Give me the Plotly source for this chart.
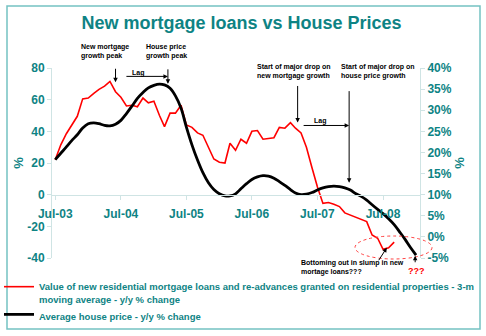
import pandas as pd
import plotly.graph_objects as go

# ---- data -------------------------------------------------------------
months_mortgage = pd.date_range("2003-07-01", periods=63, freq="MS")
mortgage_yoy = [
    22, 31.5, 38.5, 44, 49.5, 60.5, 61, 64, 66.5, 68.5,
    71.5, 65, 61.5, 56, 56.5, 55.5, 61, 58, 59, 50,
    43, 51.5, 51.5, 56.5, 44, 42.5, 39, 37.5, 30, 22.5,
    20.5, 20, 32.5, 28, 35, 32.5, 40, 40.5, 35, 35.5,
    36, 42.5, 42, 45.5, 42, 39, 30, 17, 5, -5.5,
    -5, -6, -7.5, -11.5, -13, -14.5, -16, -17, -25.5, -27.5,
    -34.5, -33.5, -30,
]

months_house = pd.date_range("2003-07-01", periods=67, freq="MS")
house_price_yoy = [
    18.3, 19.8, 21.3, 22.8, 24.2, 25.8, 26.8, 27.0, 26.8, 26.4,
    26.3, 26.7, 27.6, 29.2, 31.0, 32.8, 34.2, 35.3, 35.9, 36.2,
    36.0, 35.2, 33.4, 30.5, 26.0, 21.8, 18.2, 15.2, 12.8, 11.2,
    10.2, 9.7, 9.7, 10.2, 11.4, 12.6, 13.6, 14.2, 14.5, 14.4,
    13.9, 13.1, 12.2, 11.2, 10.4, 10.0, 10.1, 10.5, 11.1, 11.6,
    11.9, 12.0, 11.9, 11.6, 11.1, 10.2, 9.6, 8.7, 7.6, 6.5,
    5.5, 4.3, 2.9, 1.2, -0.6, -2.5, -4.3,
]

left_ticks = [-40, -20, 0, 20, 40, 60, 80]
left_labels = [str(v) for v in left_ticks]
right_ticks = [-5, 0, 5, 10, 15, 20, 25, 30, 35, 40]
right_labels = [f"{v}%" for v in right_ticks]

mortgage_name = ("Value of new residential mortgage loans and re-advances granted on "
                 "residential properties - 3-m<br>moving average - y/y % change")
house_name = "Average house price - y/y % change"

# ---- layout helpers ---------------------------------------------------
W, H = 486, 336
M = dict(l=52, r=66, t=68, b=78, autoexpand=False)
PW = W - M["l"] - M["r"]
PH = H - M["t"] - M["b"]


def px(x):
    return (x - M["l"]) / PW


def py(y):
    return (H - M["b"] - y) / PH


TEAL = "#0e8384"
AXIS = "#cfe4e4"
FONT = "Liberation Sans, Arial, sans-serif"

fig = go.Figure()
fig.add_trace(go.Scatter(
    x=months_mortgage, y=mortgage_yoy, name=mortgage_name, mode="lines",
    line=dict(color="#ff0000", width=1.6), yaxis="y",
))
fig.add_trace(go.Scatter(
    x=months_house, y=house_price_yoy, name=house_name, mode="lines",
    line=dict(color="#000000", width=2.8, shape="spline", smoothing=1.0), yaxis="y2",
))

tickfont = dict(family=FONT, size=12, color=TEAL, weight="bold")

fig.update_layout(
    width=W, height=H, margin=M,
    paper_bgcolor="white", plot_bgcolor="white",
    font=dict(family=FONT),
    title=dict(text="New mortgage loans vs House Prices", x=0.497, xref="container",
               y=1 - 23 / H, yanchor="middle",
               font=dict(family=FONT, size=18, color=TEAL, weight="bold")),
    xaxis=dict(type="date", range=["2003-06-13", "2009-01-23"],
               tick0="2003-07-01", dtick="M12", tickformat="%b-%y",
               anchor="free", position=1 / 3, showgrid=False, zeroline=False,
               showline=True, linecolor=AXIS, linewidth=1,
               ticks="outside", ticklen=4, tickcolor=AXIS,
               tickfont=tickfont, ticklabelstandoff=4, automargin=False),
    yaxis=dict(range=[-40, 80], tickvals=left_ticks, ticktext=left_labels,
               showgrid=False, zeroline=False,
               showline=True, linecolor=AXIS, ticks="outside", ticklen=4, tickcolor=AXIS,
               tickfont=tickfont, title=dict(text="%", font=dict(size=13, color=TEAL, weight="bold"),
                                            standoff=0),
               automargin=False),
    yaxis2=dict(range=[-5, 40], tickvals=right_ticks, ticktext=right_labels, overlaying="y",
                side="right", showgrid=False, zeroline=False,
                showline=True, linecolor=AXIS, ticks="outside", ticklen=4, tickcolor=AXIS,
                tickfont=tickfont, title=dict(text="%", font=dict(size=13, color=TEAL, weight="bold"),
                                             standoff=4),
                automargin=False),
    legend=dict(x=px(-1), y=py(274), xanchor="left", yanchor="top", valign="top",
                font=dict(family=FONT, size=9.5, color=TEAL, weight="bold"),
                bgcolor="rgba(0,0,0,0)", itemwidth=30, tracegroupgap=0),
    showlegend=True,
)

# outer frame
fig.add_shape(type="rect", xref="paper", yref="paper",
              x0=px(7), x1=px(480), y0=py(329), y1=py(6),
              line=dict(color="#74c2c2", width=1.5), layer="below")

# dashed ellipse around the latest readings
fig.add_shape(type="circle", xref="paper", yref="paper",
              x0=px(355), x1=px(432), y0=py(259), y1=py(236),
              line=dict(color="#ff4040", width=1, dash="dot"))

note = dict(family=FONT, size=7, color="black", weight="bold")

texts = [
    ("New mortgage<br>growth peak", 79, 51.5),
    ("House price<br>growth peak", 144, 51.5),
    ("Start of major drop on<br>new mortgage growth", 255, 71.5),
    ("Start of major drop on<br>house price growth", 339, 71.5),
    ("Bottoming out in slump in new<br>mortage loans???", 299, 267),
]
for t, x, y in texts:
    fig.add_annotation(text=t, xref="paper", yref="paper", x=px(x), y=py(y),
                       xanchor="left", yanchor="middle", align="left",
                       showarrow=False, font=note)

for x, y in [(137.5, 73), (320, 121)]:
    fig.add_annotation(text="Lag", xref="paper", yref="paper", x=px(x), y=py(y),
                       xanchor="center", yanchor="middle", showarrow=False, font=note)

fig.add_annotation(text="???", xref="paper", yref="paper", x=px(416), y=py(271),
                   xanchor="center", yanchor="middle", showarrow=False,
                   font=dict(family=FONT, size=9, color="#ff0000", weight="bold"))

# arrows: (date, left-axis value, tail dx, tail dy)
arrows = [
    ("2004-06-01", 71, 0, -15),
    ("2005-03-20", 70, 0, -16),
    ("2005-03-20", 74.7, -43, 0),
    ("2007-03-13", 45.6, 0, -38),
    ("2007-12-25", 7.6, 0, -93),
    ("2007-12-25", 43.7, -47, 0),
    ("2008-07-22", -33.5, -9, 14),
    ("2008-12-27", -38.6, 0, 8),
]
for x, y, dx, dy in arrows:
    fig.add_annotation(text="", x=x, y=y, xref="x", yref="y", ax=dx, ay=dy,
                       showarrow=True, arrowhead=2, arrowsize=0.9, arrowwidth=1,
                       arrowcolor="black", standoff=0)

fig.write_html("out.html")
